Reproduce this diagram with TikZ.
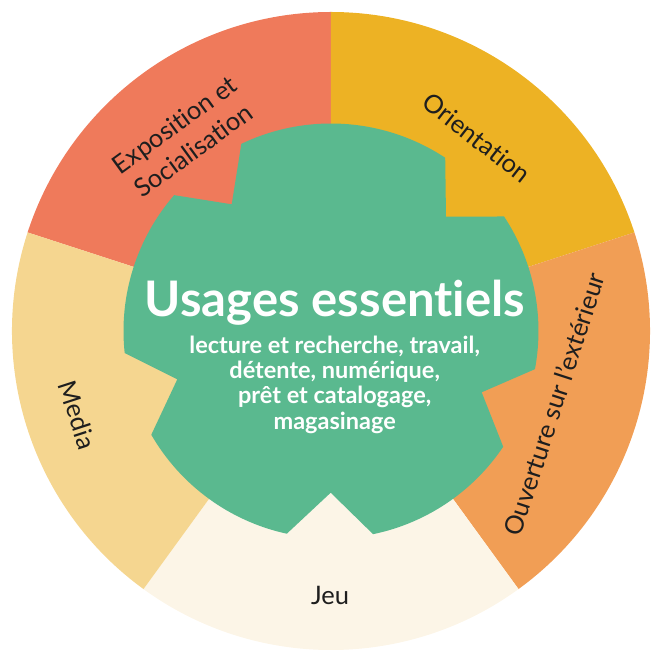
\documentclass[tikz,border=0pt]{standalone}
\usepackage{fontspec}
\setmainfont{Lato}[Ligatures={NoCommon}]
\definecolor{cRed}{HTML}{EF7A5B}
\definecolor{cYel}{HTML}{EDB224}
\definecolor{cOra}{HTML}{F19E55}
\definecolor{cCre}{HTML}{FCF5E7}
\definecolor{cLye}{HTML}{F5D690}
\definecolor{cGrn}{HTML}{5AB98F}
\definecolor{cTxt}{HTML}{1E1E1E}
\tikzset{
  seglabel/.style={text=cTxt, font=\fontsize{25.5}{32}\selectfont, align=center, inner sep=0pt},
  titletext/.style={text=white, font=\fontsize{49}{52}\selectfont\bfseries, inner sep=0pt, anchor=base},
  subtext/.style={text=white, font=\fontsize{23.5}{25}\selectfont\bfseries, inner sep=0pt, anchor=base}
}
\begin{document}
\begin{tikzpicture}[x=1pt,y=1pt]
\useasboundingbox (-331,-319) rectangle (320,331);
% outer sectors
\fill[cRed] (0,0) -- (90:319) arc[start angle=90,end angle=162,radius=319] -- cycle;
\fill[cYel] (0,0) -- (18:319) arc[start angle=18,end angle=90,radius=319] -- cycle;
\fill[cOra] (0,0) -- (-54:319) arc[start angle=-54,end angle=18,radius=319] -- cycle;
\fill[cCre] (0,0) -- (-126:319) arc[start angle=-126,end angle=-54,radius=319] -- cycle;
\fill[cLye] (0,0) -- (162:319) arc[start angle=162,end angle=234,radius=319] -- cycle;
% central notched shape
\fill[cGrn] (115.6:207.5) arc[start angle=115.6,end angle=56.6,radius=207.5]
  -- (115,114.3) -- (33.5:207.5) arc[start angle=33.5,end angle=-10.6,radius=207.5]
  -- (150.7,-61.3) -- (-33.9:207.5) arc[start angle=-33.9,end angle=-78.3,radius=207.5]
  -- (-0.3,-161.7) -- (-102.3:207.5) arc[start angle=-102.3,end angle=-150,radius=207.5]
  -- (-153.7,-48.3) -- (-173.9:207.5) arc[start angle=-173.9,end angle=-220.9,radius=207.5]
  -- (-99.3,126.7) -- cycle;
% central texts
\node[titletext] (title) at (4,14.3) {Usages essentiels};
\node[subtext] (sub1) at (3.7,-22.3) {lecture et recherche, travail,};
\node[subtext] (sub2) at (3.7,-47.3) {détente, numérique,};
\node[subtext] (sub3) at (3.7,-73) {prêt et catalogage,};
\node[subtext] (sub4) at (3.7,-99) {magasinage};
% segment labels
\node[seglabel, rotate=36] (expo) at (-147,193.5) {Exposition et\\Socialisation};
\node[seglabel, rotate=-38] (orient) at (145.6,193.3) {Orientation};
\node[seglabel, rotate=72] (ouv) at (223,-73) {Ouverture sur l'extérieur};
\node[seglabel, anchor=base] (jeu) at (-1,-274) {Jeu};
\node[seglabel, rotate=-72] (media) at (-253.5,-84) {Media};
\end{tikzpicture}
\end{document}
